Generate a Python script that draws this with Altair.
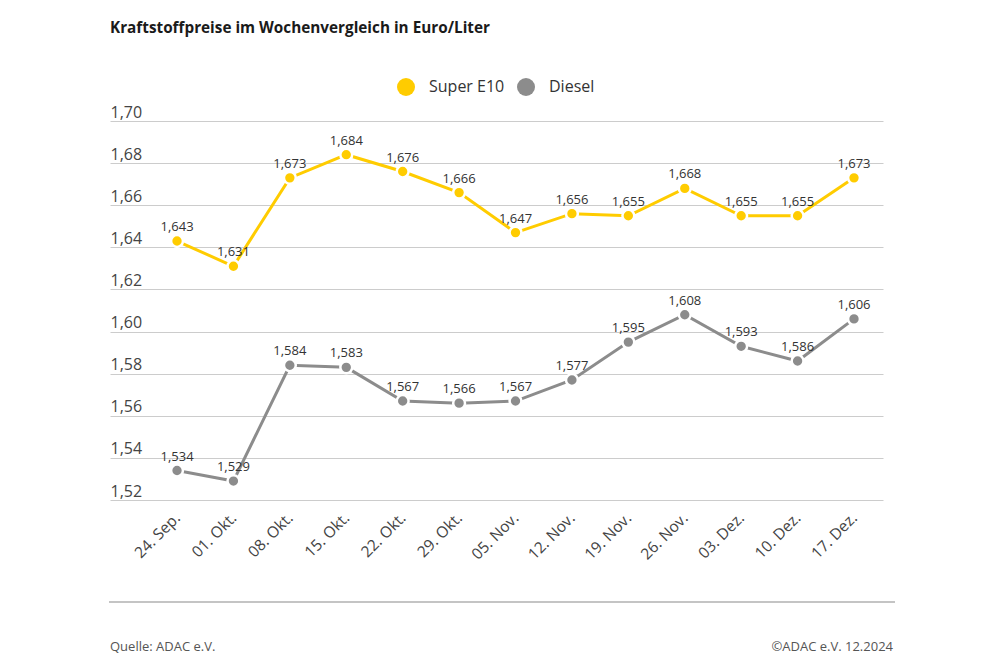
import altair as alt
import pandas as pd

weeks = ["24. Sep.", "01. Okt.", "08. Okt.", "15. Okt.", "22. Okt.", "29. Okt.",
         "05. Nov.", "12. Nov.", "19. Nov.", "26. Nov.", "03. Dez.", "10. Dez.", "17. Dez."]
super_e10 = [1.643, 1.631, 1.673, 1.684, 1.676, 1.666, 1.647, 1.656, 1.655, 1.668, 1.655, 1.655, 1.673]
diesel = [1.534, 1.529, 1.584, 1.583, 1.567, 1.566, 1.567, 1.577, 1.595, 1.608, 1.593, 1.586, 1.606]
series = ["Super E10", "Diesel"]
colors = ["#FFCC00", "#8C8C8C"]
y_ticks = [1.52, 1.54, 1.56, 1.58, 1.60, 1.62, 1.64, 1.66, 1.68, 1.70]

FONT = "Open Sans"

rows = []
for w, v in zip(weeks, super_e10):
    rows.append({"Woche": w, "Kraftstoff": "Super E10", "Preis": v})
for w, v in zip(weeks, diesel):
    rows.append({"Woche": w, "Kraftstoff": "Diesel", "Preis": v})
df = pd.DataFrame(rows)

x_enc = alt.X("Woche:N", sort=weeks,
              scale=alt.Scale(type="point", padding=0.851, align=0.698),
              axis=alt.Axis(title=None, labelAngle=-45, labelAlign="right", labelBaseline="middle",
                            labelPadding=15, labelFontSize=15.5, labelColor="#444444", labelFont=FONT,
                            ticks=False, domain=False, grid=False))
y_enc = alt.Y("Preis:Q",
              scale=alt.Scale(domain=[1.52, 1.70], nice=False, zero=False),
              axis=alt.Axis(title=None, values=y_ticks,
                            labelExpr="replace(format(datum.value, '.2f'), '.', ',')",
                            labelAlign="left", labelBaseline="alphabetic", labelOffset=-4,
                            labelPadding=0, tickSize=0, ticks=False, domain=False,
                            labelFontSize=16, labelColor="#444444", labelFont=FONT,
                            grid=True, gridColor="#cccccc", gridWidth=1))
color_enc = alt.Color("Kraftstoff:N", sort=series,
                      scale=alt.Scale(domain=series, range=colors),
                      legend=alt.Legend(title=None, orient="none", legendX=287, legendY=-43,
                                        direction="horizontal", symbolType="circle",
                                        symbolSize=324, symbolStrokeWidth=0, symbolOpacity=1,
                                        labelFontSize=16, labelColor="#333333", labelFont=FONT,
                                        labelOffset=14, columnPadding=12, padding=0))

base = alt.Chart(df)

lines = base.mark_line(strokeWidth=3).encode(x=x_enc, y=y_enc, color=color_enc)
points = base.mark_point(filled=True, size=140, opacity=1, stroke="white", strokeWidth=2.5,
                         shape="circle").encode(
    x=x_enc, y=y_enc,
    fill=alt.Fill("Kraftstoff:N", sort=series, scale=alt.Scale(domain=series, range=colors), legend=None))
labels = base.transform_calculate(
    label="replace(format(datum.Preis, '.3f'), '.', ',')"
).mark_text(font=FONT, fontSize=13, color="#333333", baseline="alphabetic", dy=-10).encode(
    x=x_enc, y=y_enc, text="label:N")

one = pd.DataFrame({"k": [0]})
rule = alt.Chart(one).mark_rule(color="#c4c4c4", strokeWidth=2).encode(
    x=alt.value(-1), x2=alt.value(785), y=alt.value(481))
src = alt.Chart(one).mark_text(text="Quelle: ADAC e.V.", align="left", baseline="middle",
                                font=FONT, fontSize=13, color="#555555").encode(
    x=alt.value(0), y=alt.value(526))
copy = alt.Chart(one).mark_text(text="©ADAC e.V. 12.2024", align="right", baseline="middle",
                                 font=FONT, fontSize=13, color="#555555").encode(
    x=alt.value(783), y=alt.value(526))

chart = alt.layer(lines, points, labels, rule, src, copy).properties(
    width=773, height=379,
    padding={"left": 102, "top": 113, "right": 109, "bottom": 157},
    autosize=alt.AutoSizeParams(type="none"),
    title=alt.TitleParams("Kraftstoffpreise im Wochenvergleich in Euro/Liter", anchor="start",
                          frame="group", font=FONT, fontSize=15.3, fontWeight="bold",
                          color="#1a1a1a", offset=42)
).configure(background="white").configure_view(stroke=None, strokeWidth=0)

chart.save("out.html", embed_options={"renderer": "svg", "actions": False})
